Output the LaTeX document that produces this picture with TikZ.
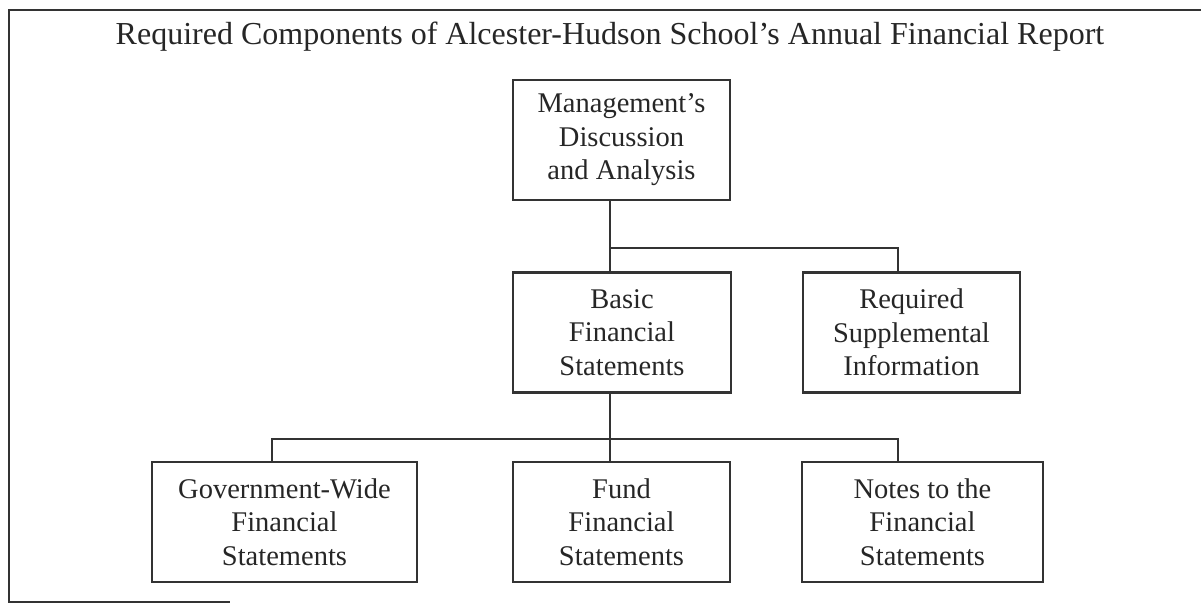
\documentclass[tikz,border=0pt]{standalone}
\usepackage{fontspec}
\setmainfont{Liberation Serif}
\usepackage{tikz}

\begin{document}
\begin{tikzpicture}[x=1pt,y=-1pt,
    part/.style={draw=black!80, line width=2.4pt, align=center, inner sep=0pt,
      minimum height=120pt, text=black!85,
      font=\fontsize{28.5}{33.5}\selectfont},
    link/.style={draw=black!80, line width=2.4pt}]
    \useasboundingbox (0,0) rectangle (1201,604);

    \draw[link] (1201,10) -- (9,10) -- (9,602) -- (230,602);
    \node[text=black!85, font=\fontsize{32}{36}\selectfont] (title) at (610,37)
      {Required Components of Alcester-Hudson School's Annual Financial Report};

    \node[part, minimum width=217pt] (mda) at (621.5,140)
      {Management's\\Discussion\\and Analysis};
    \node[part, minimum width=218pt] (basic) at (622,332.5)
      {Basic\\Financial\\Statements};
    \node[part, minimum width=217pt] (rsi) at (911.5,332.5)
      {Required\\Supplemental\\Information};

    \node[part, minimum width=265pt] (gov) at (284.5,522)
      {Government-Wide\\Financial\\Statements};
    \node[part, minimum width=217pt] (fund) at (621.5,522)
      {Fund\\Financial\\Statements};
    \node[part, minimum width=241pt] (notes) at (922.5,522)
      {Notes to the\\Financial\\Statements};

    \coordinate (upjoin) at (610,248);
    \coordinate (lowjoin) at (610,439);

    \draw[link] (mda.south -| upjoin) -- (upjoin) -| ([xshift=-13.5pt]rsi.north);
    \draw[link] (upjoin) -- (basic.north -| upjoin);
    \draw[link] (basic.south -| lowjoin) -- (lowjoin);
    \draw[link] ([xshift=-12.5pt]gov.north) |- (lowjoin) -| ([xshift=-24.5pt]notes.north);
    \draw[link] (lowjoin) -- (fund.north -| lowjoin);
  \end{tikzpicture}
\end{document}
